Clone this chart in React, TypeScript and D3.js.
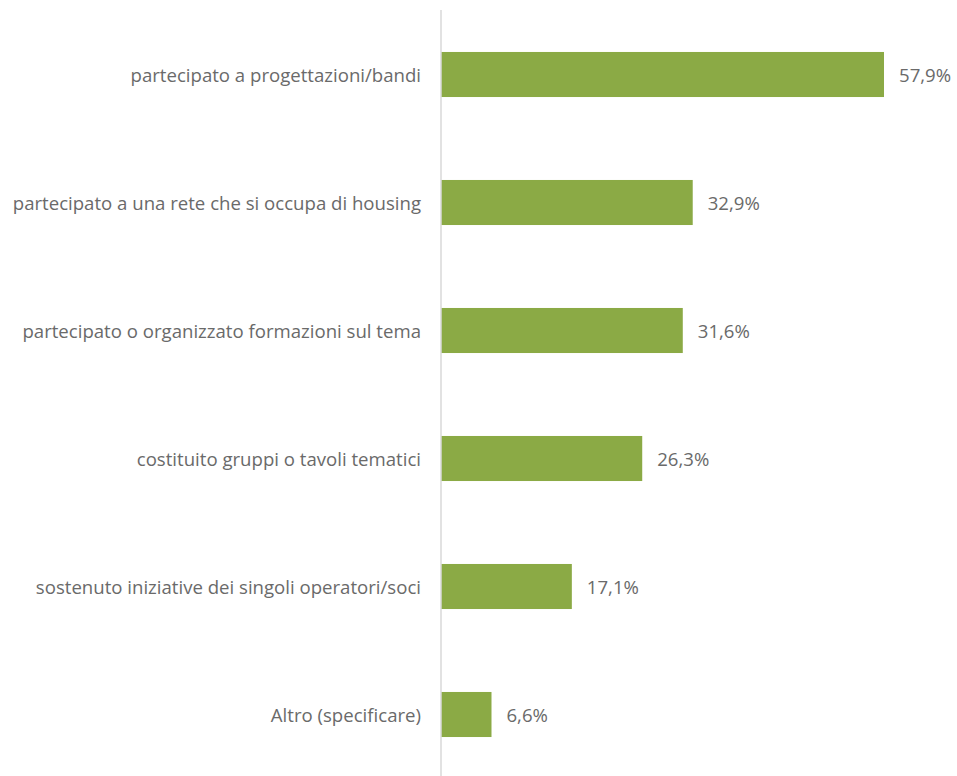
import React from "react";
import * as d3 from "d3";

const categories = [
  "partecipato a progettazioni/bandi",
  "partecipato a una rete che si occupa di housing",
  "partecipato o organizzato formazioni sul tema",
  "costituito gruppi o tavoli tematici",
  "sostenuto iniziative dei singoli operatori/soci",
  "Altro (specificare)",
];
const values = [57.9, 32.9, 31.6, 26.3, 17.1, 6.6];
const valueLabels = ["57,9%", "32,9%", "31,6%", "26,3%", "17,1%", "6,6%"];

const W = 957;
const H = 776;
const axisX = 441;
const top = 10.5;
const bandH = 128;

export default function App() {
  const x = d3.scaleLinear().domain([0, 57.9]).range([axisX, 884]);
  const y = d3
    .scaleBand<string>()
    .domain(categories)
    .range([top, top + bandH * categories.length])
    .paddingInner(0.648)
    .paddingOuter(0.324);
  const font = "'Open Sans', 'Liberation Sans', sans-serif";
  return (
    <svg
      width={W}
      height={H}
      style={{ position: "absolute", left: 0, top: 0, background: "#fff" }}
    >
      {categories.map((c, i) => {
        const yy = y(c)!;
        const cy = yy + y.bandwidth() / 2;
        return (
          <g key={c}>
            <rect
              x={x(0)}
              y={yy}
              width={x(values[i]) - x(0)}
              height={y.bandwidth()}
              fill="#8baa45"
            />
            <text
              x={axisX - 20}
              y={cy}
              textAnchor="end"
              dominantBaseline="central"
              fontFamily={font}
              fontSize={18.6}
              fill="#6a6a6a"
            >
              {c}
            </text>
            <text
              x={x(values[i]) + 15}
              y={cy}
              dominantBaseline="central"
              fontFamily={font}
              fontSize={18.6}
              fill="#6a6a6a"
            >
              {valueLabels[i]}
            </text>
          </g>
        );
      })}
      <line x1={axisX} x2={axisX} y1={10} y2={H} stroke="#d9d9d9" strokeWidth={1.5} />
    </svg>
  );
}
